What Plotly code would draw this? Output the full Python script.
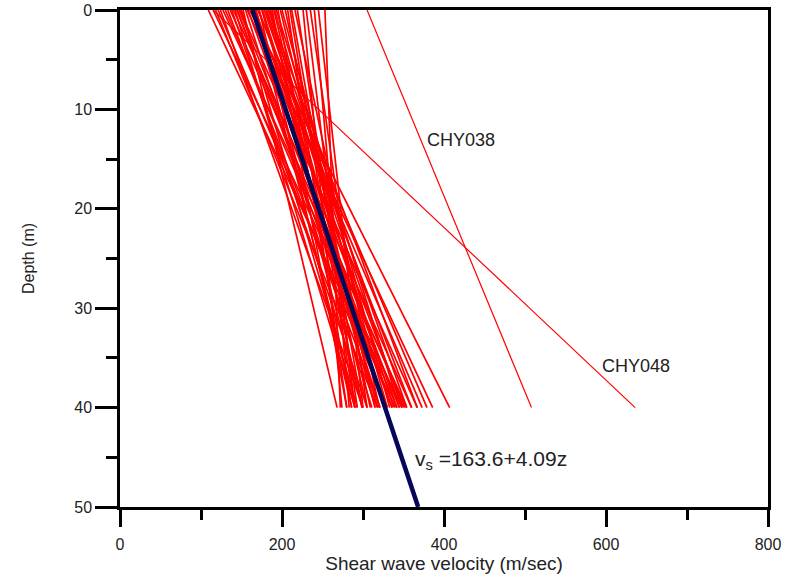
import plotly.graph_objects as go

# Linear shear-wave velocity profiles (m/sec) at the surface and at 40 m depth
depth_top = 0.0
depth_bottom = 40.0
vs_top = [109, 115, 121, 127, 133, 140, 144, 148, 152, 157, 160, 163, 167, 170,
          175, 181, 185, 191, 195, 204, 207, 219, 226, 235, 253,
          138, 150, 165, 172, 178, 188, 198, 212, 130, 158, 145, 183, 168,
          118, 124, 136, 142, 147, 155, 162, 166, 171, 176, 180, 186, 190,
          193, 200, 210, 216, 230, 240, 245]
vs_bottom = [340, 348, 330, 354, 321, 360, 336, 367, 268, 386, 407, 373, 342, 379,
             315, 354, 299, 330, 286, 309, 280, 293, 274, 305, 272,
             305, 293, 321, 286, 348, 280, 315, 299, 342, 336, 327, 367, 299,
             318, 300, 352, 290, 345, 311, 350, 290, 360, 327, 338, 318, 305,
             345, 333, 290, 320, 290, 283, 300]

# Two outlying stations
outlier_names = ["CHY038", "CHY048"]
outlier_top = [305, 115]
outlier_bottom = [508, 636]
outlier_label_x = [376, 593]
outlier_label_z = [13.1, 35.8]

# Regression of all profiles: vs = a + b z
fit_a = 163.6
fit_b = 4.09
fit_depths = [0, 50]

x_ticks = [0, 200, 400, 600, 800]
y_ticks = [0, 10, 20, 30, 40, 50]

fig = go.Figure()

for v0, v1 in zip(vs_top, vs_bottom):
    fig.add_trace(go.Scatter(x=[v0, v1], y=[depth_top, depth_bottom], mode="lines",
                             line=dict(color="#ff0000", width=1.7),
                             showlegend=False, hoverinfo="skip"))

for v0, v1 in zip(outlier_top, outlier_bottom):
    fig.add_trace(go.Scatter(x=[v0, v1], y=[depth_top, depth_bottom], mode="lines",
                             line=dict(color="#ff0000", width=1.2),
                             showlegend=False, hoverinfo="skip"))

fig.add_trace(go.Scatter(x=[fit_a + fit_b * z for z in fit_depths], y=fit_depths,
                         mode="lines", line=dict(color="#07075a", width=4.5),
                         showlegend=False, hoverinfo="skip"))

for name, lx, lz in zip(outlier_names, outlier_label_x, outlier_label_z):
    fig.add_annotation(x=lx, y=lz, text=name, showarrow=False, xanchor="left",
                       yanchor="middle", font=dict(size=18, color="#222222"))

fig.add_annotation(x=362, y=45.3, text=f"v<sub>s</sub> ={fit_a}+{fit_b}z",
                   showarrow=False, xanchor="left", yanchor="middle",
                   font=dict(size=21, color="#222222"))

axis_font = dict(family="Liberation Sans, Arial, sans-serif", size=16, color="#222222")

fig.update_layout(
    width=787, height=576,
    margin=dict(l=120, r=19, t=10, b=69, autoexpand=False),
    paper_bgcolor="white", plot_bgcolor="white",
    font=dict(family="Liberation Sans, Arial, sans-serif", color="#222222"),
    xaxis=dict(range=[0, 800], tickvals=x_ticks, ticks="outside", ticklen=17,
               tickwidth=2.5, tickcolor="black", showline=True, linewidth=2.5,
               linecolor="black", mirror=True, showgrid=False, zeroline=False,
               tickfont=axis_font, ticklabelstandoff=4, automargin=False,
               minor=dict(dtick=100, tick0=0, ticks="outside", ticklen=10,
                          tickwidth=2.5, tickcolor="black", showgrid=False),
               title=dict(text="Shear wave velocity (m/sec)",
                          font=dict(size=19, color="#222222"), standoff=0)),
    yaxis=dict(range=[50, 0], tickvals=y_ticks, ticks="outside", ticklen=22,
               tickwidth=2.5, tickcolor="black", showline=True, linewidth=2.5,
               linecolor="black", mirror=True, showgrid=False, zeroline=False,
               tickfont=axis_font, automargin=False,
               minor=dict(dtick=5, tick0=0, ticks="outside", ticklen=11,
                          tickwidth=2.5, tickcolor="black", showgrid=False),
               title=dict(text="Depth (m)", font=dict(size=16, color="#222222"),
                          standoff=36)),
)

fig.write_html("out.html")
